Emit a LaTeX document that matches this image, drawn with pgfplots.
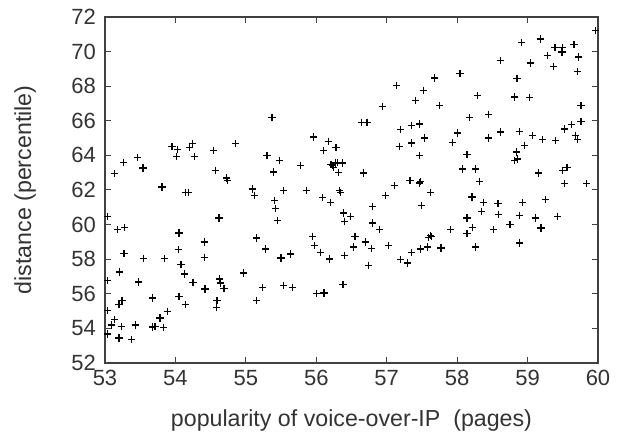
\documentclass[border=0pt]{standalone}
\usepackage{fontspec}
\setmainfont{Liberation Sans}
\usepackage{pgfplots}
\pgfplotsset{compat=1.18}

\begin{document}
\begin{tikzpicture}
\begin{axis}[
    name=main,
    scale only axis,
    width=246.5pt,
    height=173pt,
    xmin=53, xmax=60,
    ymin=52, ymax=72,
    xtick={53,54,...,60},
    ytick={52,54,...,72},
    tick align=inside,
    major tick length=2.8pt,
    tick style={line width=0.5pt, black!75},
    axis line style={line width=0.6pt, black!75},
    font=\fontsize{11}{13}\selectfont,
    tick label style={black!80},
    yticklabel style={xshift=-1pt},
    /pgf/number format/assume math mode=true,
    xlabel={popularity of voice-over-IP\ \ (pages)},
    ylabel={distance (percentile)},
    label style={font=\fontsize{11.6}{13}\selectfont},
    xlabel style={at={(axis description cs:0.5,-0.165)}, anchor=center, black!80},
    ylabel style={at={(axis description cs:-0.162,0.5)}, anchor=center, black!80},
]
\addplot[only marks, mark=+, mark size=1.8pt, mark options={line width=0.6pt, black}] coordinates {
(53.04,60.48)(53.04,56.76)(53.04,55.02)(53.03,53.68)(53.09,54.20)(53.14,54.50)
(53.13,62.94)(53.18,59.70)(53.28,59.84)(53.21,57.26)(53.27,58.32)(53.20,55.40)
(53.24,55.60)(53.23,54.12)(53.20,53.44)(53.38,53.35)(53.43,54.20)(53.26,63.60)
(53.46,63.90)(53.54,63.27)(53.48,56.68)(53.55,58.03)(53.68,55.76)(53.68,54.08)
(53.71,54.10)(53.78,54.60)(53.83,54.06)(53.89,54.99)(53.81,62.17)(53.85,58.03)
(53.95,64.52)(54.02,63.95)(54.03,64.33)(54.20,64.45)(54.24,64.68)(54.27,63.95)
(54.14,61.87)(54.19,61.87)(54.05,59.51)(54.04,58.55)(54.08,57.68)(54.13,57.14)
(54.05,55.85)(54.14,55.37)(54.25,56.66)(54.42,56.28)(54.41,58.99)(54.41,58.11)
(54.54,64.27)(54.57,63.12)(54.62,60.38)(54.72,62.69)(54.74,62.54)(54.85,64.68)
(54.63,56.86)(54.64,56.62)(54.69,56.32)(54.59,55.60)(54.58,55.20)(54.97,57.20)
(55.09,62.06)(55.12,61.69)(55.15,59.22)(55.15,55.60)(55.24,56.37)(55.28,58.59)
(55.30,63.98)(55.37,66.20)(55.39,63.04)(55.41,61.40)(55.42,60.92)(55.45,60.25)
(55.48,63.71)(55.50,58.07)(55.54,61.98)(55.54,56.47)(55.63,58.30)(55.66,56.37)
(55.78,63.43)(55.86,61.98)(55.96,65.06)(55.95,59.32)(55.97,58.80)(56.00,56.00)
(56.06,58.40)(56.09,61.58)(56.10,64.30)(56.11,56.05)(56.17,64.81)(56.19,58.01)
(56.20,61.29)(56.21,63.46)(56.23,63.41)(56.24,63.31)(56.27,63.56)(56.28,64.47)
(56.30,63.60)(56.32,63.02)(56.33,61.98)(56.34,61.87)(56.37,63.56)(56.39,60.67)
(56.40,60.19)(56.40,58.22)(56.38,56.53)(56.49,60.48)(56.55,59.32)(56.53,58.71)
(56.64,65.91)(56.72,65.91)(56.67,62.98)(56.70,58.99)(56.74,57.65)(56.78,58.61)
(56.80,61.06)(56.80,60.09)(56.90,59.71)(56.94,66.84)(56.98,61.67)(57.02,58.78)
(57.14,68.03)(57.11,62.25)(57.18,64.52)(57.20,65.49)(57.20,57.97)(57.29,57.78)
(57.35,65.74)(57.35,64.72)(57.33,62.54)(57.35,58.40)(57.41,67.18)(57.46,63.98)
(57.47,65.81)(57.48,62.50)(57.47,62.40)(57.49,61.11)(57.48,58.59)(57.52,67.74)
(57.54,65.01)(57.58,58.71)(57.59,59.26)(57.62,59.38)(57.64,59.32)(57.62,61.87)
(57.68,68.47)(57.75,66.89)(57.77,58.65)(57.91,59.71)(57.93,64.76)(58.00,65.29)
(58.04,68.72)(58.08,63.21)(58.14,64.04)(58.14,60.38)(58.14,59.48)(58.18,66.20)
(58.21,61.60)(58.22,59.84)(58.26,58.71)(58.26,63.21)(58.29,67.45)(58.32,62.50)
(58.35,60.77)(58.37,61.29)(58.45,66.35)(58.44,65.01)(58.52,59.71)(58.58,61.21)
(58.59,60.57)(58.61,69.48)(58.62,65.35)(58.75,60.00)(58.81,67.38)(58.82,63.71)
(58.84,64.20)(58.85,68.44)(58.86,63.79)(58.88,65.39)(58.89,60.54)(58.89,58.94)
(58.91,70.54)(58.93,61.29)(58.96,64.58)(59.03,67.36)(59.04,69.34)(59.07,65.14)
(59.11,60.38)(59.15,62.98)(59.18,70.73)(59.19,59.80)(59.21,64.91)(59.25,61.44)
(59.28,69.77)(59.37,69.15)(59.39,70.25)(59.40,64.85)(59.43,60.48)(59.49,69.98)
(59.50,70.25)(59.50,63.12)(59.53,62.37)(59.53,65.53)(59.56,63.31)(59.62,65.78)
(59.66,70.40)(59.68,65.16)(59.71,64.91)(59.71,68.86)(59.72,69.69)(59.76,66.87)
(59.76,65.97)(59.84,62.37)(59.97,71.21)
};
\end{axis}
\path ([xshift=-52.5pt,yshift=-36pt]main.south west) rectangle ([xshift=15pt,yshift=8.5pt]main.north east);
\end{tikzpicture}
\end{document}
